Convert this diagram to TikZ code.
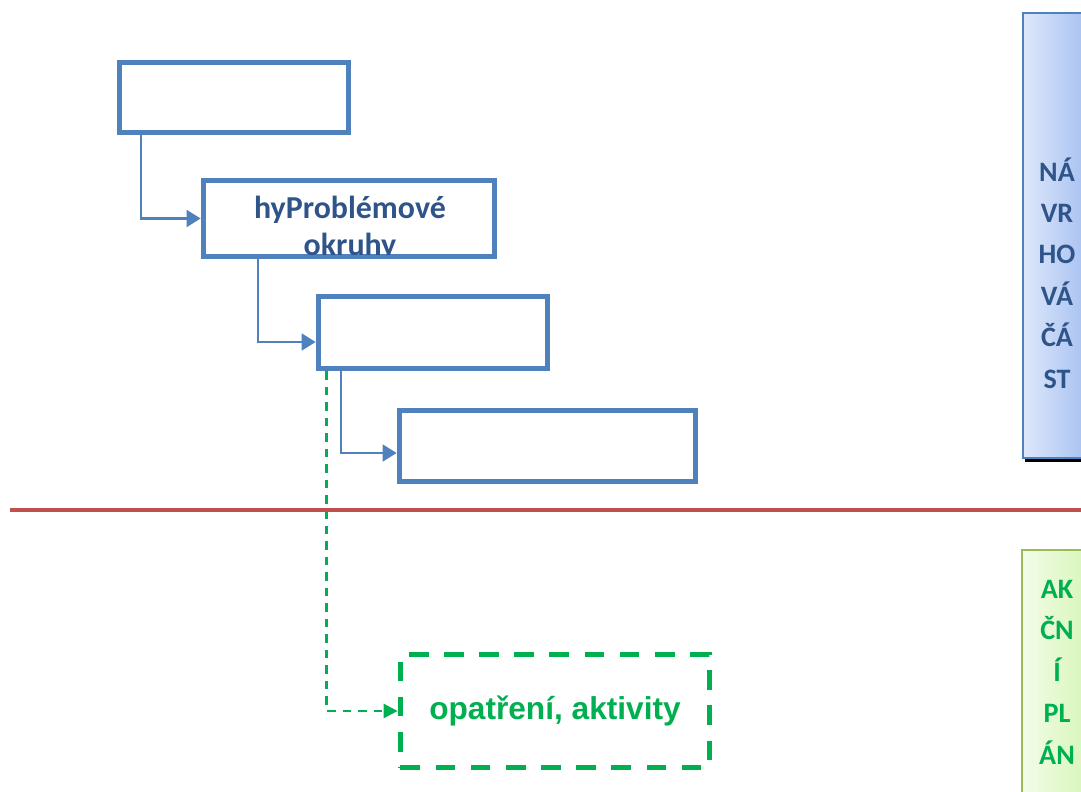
\documentclass[tikz,border=0pt]{standalone}
\usepackage{fontspec}
\setmainfont{Carlito}
\newfontfamily\arialfont{Liberation Sans}
\usetikzlibrary{arrows.meta,calc}

\definecolor{boxblue}{RGB}{79,129,189}
\definecolor{textblue}{RGB}{46,84,138}
\definecolor{actgreen}{RGB}{0,176,80}
\definecolor{linered}{RGB}{192,80,77}
\definecolor{panelblueL}{RGB}{222,232,250}
\definecolor{panelblueR}{RGB}{160,188,240}
\definecolor{panelgreenL}{RGB}{242,252,232}
\definecolor{panelgreenR}{RGB}{214,245,180}
\definecolor{panelgreenB}{RGB}{155,187,89}

\begin{document}
\begin{tikzpicture}[x=0.025cm,y=-0.025cm,
        stepbox/.style={rectangle, draw=boxblue, line width=4pt, inner sep=0pt},
        actbox/.style={rectangle, draw=actgreen, line width=4pt, dash pattern=on 14pt off 11pt, inner sep=0pt},
        link/.style={draw=boxblue, line width=1.6pt, -{Triangle[length=10pt,width=12pt]}},
        actlink/.style={draw=actgreen, line width=1.8pt, dash pattern=on 6pt off 5pt, -{Triangle[length=10pt,width=10pt]}},
        paneltext/.style={align=center, font=\bfseries\fontsize{20}{29.5}\selectfont},
        ]
        \useasboundingbox (0,0) rectangle (1081,791);

        % Side panels
        \fill[black] (1025,17) rectangle (1095,462);
        \shade[left color=panelblueL, right color=panelblueR, draw=boxblue, line width=1.2pt]
            (1023,13) rectangle (1095,458);
        \node[paneltext, text=textblue] (navrh) at (1057,273) {NÁ\\VR\\HO\\VÁ\\ČÁ\\ST};
        \shade[left color=panelgreenL, right color=panelgreenR, draw=panelgreenB, line width=1.2pt]
            (1022,550) rectangle (1095,800);
        \node[paneltext, text=actgreen] (akcni) at (1057,672) {AK\\ČN\\Í\\PL\\ÁN};

        % Divider
        \draw[linered, line width=2.6pt] (10,510) -- (1081,510);

        % Boxes
        \node[stepbox, minimum width=5.725cm, minimum height=1.75cm] (b1) at (234,97.5) {};
        \node[stepbox, minimum width=7.275cm, minimum height=1.9cm] (b2) at (349,218.5) {};
        \node[stepbox, minimum width=5.725cm, minimum height=1.8cm] (b3) at (433,332.5) {};
        \node[stepbox, minimum width=7.4cm, minimum height=1.775cm] (b4) at (547.5,446) {};
        \begin{scope}
            \clip (205,182) rectangle (493,254);
            \node[align=center, text=textblue, font=\bfseries\fontsize{22.7}{26.3}\selectfont]
                (b2text) at (350,228) {hyProblémové\\okruhy};
        \end{scope}

        % Action
        \node[actbox, minimum width=7.725cm, minimum height=2.825cm,
              text=actgreen, font=\arialfont\bfseries\fontsize{22.5}{26}\selectfont] (act) at (555,711) {opatření, aktivity};

        % Links
        \draw[link] ($(b1.south west)+(24,0)$) |- (b2.west);
        \draw[link] ($(b2.south west)+(57,0)$) |- ($(b3.west)+(0,9.5)$);
        \draw[link] ($(b3.south west)+(25,0)$) |- ($(b4.west)+(0,7)$);
        \draw[actlink] ($(b3.south west)+(11,0)$) |- (act.west);

    \end{tikzpicture}
\end{document}
